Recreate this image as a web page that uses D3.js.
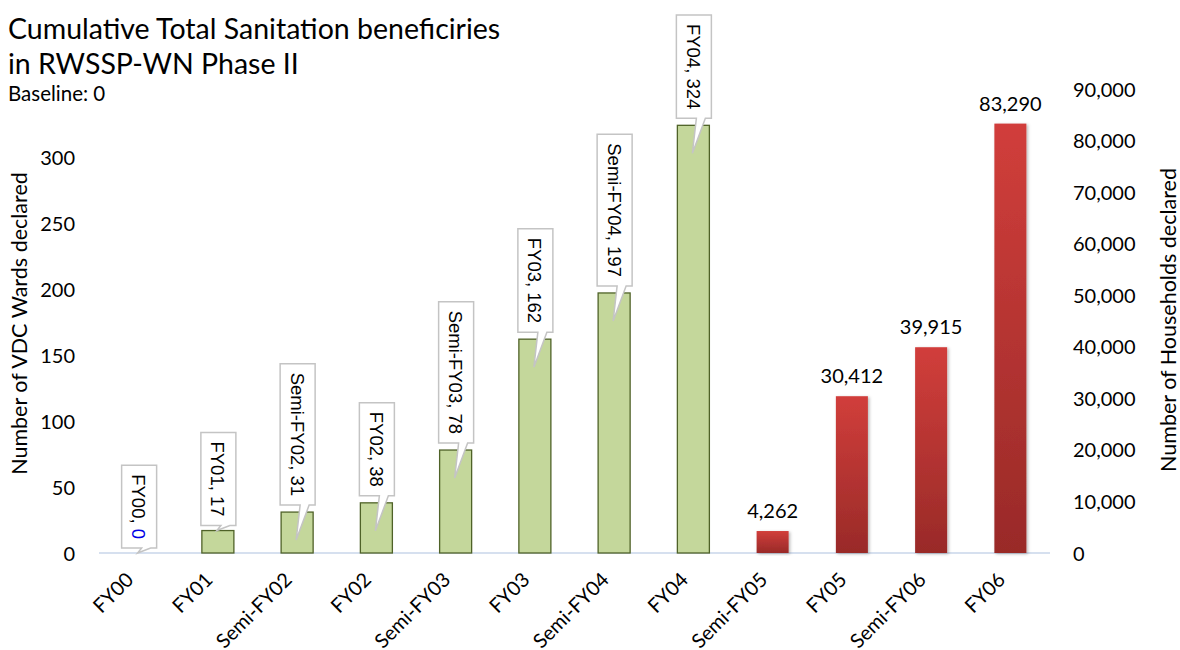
<!DOCTYPE html>
<html>
<head>
<meta charset="utf-8">
<script src="https://cdn.jsdelivr.net/npm/d3@7"></script>
<style>
  html, body { margin: 0; padding: 0; background: #fff; }
  svg { display: block; }
  text { font-family: Lato, "Open Sans", sans-serif; fill: #000; }
  .callout text { font-family: "Liberation Sans", Arial, sans-serif; }
</style>
</head>
<body>
<svg id="chart" width="1180" height="650"></svg>
<script>
// Reporting periods along the category axis
const categories = ["FY00", "FY01", "Semi-FY02", "FY02", "Semi-FY03", "FY03",
                    "Semi-FY04", "FY04", "Semi-FY05", "FY05", "Semi-FY06", "FY06"];
// VDC wards declared (left axis)
const wardsDeclared = [0, 17, 31, 38, 78, 162, 197, 324, null, null, null, null];
// Households declared (right axis)
const householdsDeclared = [null, null, null, null, null, null, null, null, 4262, 30412, 39915, 83290];
// Tick values for the two value axes
const leftTicks = [0, 50, 100, 150, 200, 250, 300];
const rightTicks = [0, 10000, 20000, 30000, 40000, 50000, 60000, 70000, 80000, 90000];

const svg = d3.select("#chart");
const baseY = 553, topY = 91;
const plotLeft = 99, plotRight = 1050;

const x = d3.scaleBand().domain(categories).range([plotLeft, plotRight])
  .paddingInner(0.596).paddingOuter(0.298);
const yL = d3.scaleLinear().domain([0, 350]).range([baseY, topY]);
const yR = d3.scaleLinear().domain([0, 90000]).range([baseY, topY - 2]);

const defs = svg.append("defs");
const grad = defs.append("linearGradient").attr("id", "redGrad")
  .attr("x1", 0).attr("y1", 0).attr("x2", 0).attr("y2", 1);
grad.append("stop").attr("offset", "0%").attr("stop-color", "#d13e3b");
grad.append("stop").attr("offset", "100%").attr("stop-color", "#992a28");
const shadow = defs.append("filter").attr("id", "barShadow")
  .attr("x", "-20%").attr("y", "-5%").attr("width", "150%").attr("height", "115%");
shadow.append("feDropShadow").attr("dx", 1.5).attr("dy", 1).attr("stdDeviation", 1.4)
  .attr("flood-color", "#000").attr("flood-opacity", 0.28);

// Title
const title = svg.append("g");
title.append("text").attr("x", 8).attr("y", 39).attr("font-size", 28.5)
  .text("Cumulative Total Sanitation beneficiries");
title.append("text").attr("x", 8).attr("y", 74).attr("font-size", 28.5)
  .text("in RWSSP-WN Phase II");
title.append("text").attr("x", 8).attr("y", 101).attr("font-size", 20.5)
  .text("Baseline: 0");

// Left value axis
const leftAxis = svg.append("g").attr("transform", `translate(${plotLeft},0)`)
  .call(d3.axisLeft(yL).tickValues(leftTicks).tickSize(0).tickPadding(24));
leftAxis.select(".domain").remove();
leftAxis.selectAll("text").attr("font-size", 20).attr("font-family", "Lato").attr("fill", "#000")
  .attr("dy", "0.35em");

// Right value axis
const rightAxis = svg.append("g").attr("transform", `translate(${plotRight},0)`)
  .call(d3.axisRight(yR).tickValues(rightTicks).tickSize(0).tickPadding(23)
    .tickFormat(d3.format(",")));
rightAxis.select(".domain").remove();
rightAxis.selectAll("text").attr("font-size", 20).attr("font-family", "Lato").attr("fill", "#000")
  .attr("dy", "0.35em");

// Axis titles
svg.append("text").attr("transform", `translate(27,${(172 + 475) / 2}) rotate(-90)`)
  .attr("text-anchor", "middle").attr("font-size", 21.5).text("Number of VDC Wards declared");
svg.append("text").attr("transform", `translate(1176,${(165 + 475) / 2}) rotate(-90)`)
  .attr("text-anchor", "middle").attr("font-size", 21.5).text("Number of Households declared");

// Category axis line
svg.append("line").attr("x1", plotLeft).attr("x2", plotRight)
  .attr("y1", baseY).attr("y2", baseY).attr("stroke", "#d6e0ef").attr("stroke-width", 2);

// Category labels, slanted
svg.append("g").selectAll("text").data(categories).join("text")
  .attr("transform", d => `translate(${x(d) + x.bandwidth() / 2 - 4},${baseY + 28}) rotate(-45)`)
  .attr("text-anchor", "end").attr("font-size", 20).text(d => d);

// Ward bars (left axis)
const wardData = categories.map((c, i) => ({ c, v: wardsDeclared[i] })).filter(d => d.v !== null);
svg.append("g").selectAll("rect").data(wardData).join("rect")
  .attr("x", d => x(d.c)).attr("width", x.bandwidth())
  .attr("y", d => yL(d.v)).attr("height", d => baseY - yL(d.v))
  .attr("fill", "#c4d79b").attr("stroke", "#4f6228").attr("stroke-width", 1.3);

// Household bars (right axis)
const hhData = categories.map((c, i) => ({ c, v: householdsDeclared[i] })).filter(d => d.v !== null);
svg.append("g").selectAll("rect").data(hhData).join("rect")
  .attr("x", d => x(d.c)).attr("width", x.bandwidth())
  .attr("y", d => yR(d.v)).attr("height", d => baseY - yR(d.v))
  .attr("fill", "url(#redGrad)").attr("filter", "url(#barShadow)");

svg.append("g").selectAll("text").data(hhData).join("text")
  .attr("x", d => x(d.c) + x.bandwidth() / 2).attr("y", d => yR(d.v) - 13)
  .attr("text-anchor", "middle").attr("font-size", 20).text(d => d3.format(",")(d.v));

// Callout labels on the ward bars: category name and value, written downwards
const callouts = svg.append("g").attr("class", "callout");
wardData.forEach(d => {
  const cx = x(d.c) + x.bandwidth() / 2;
  const top = yL(d.v);
  const h = baseY - top;
  const g = callouts.append("g");
  const path = g.append("path");
  const t = g.append("text").attr("font-size", 18.5);
  t.append("tspan").text(d.c + ", ");
  t.append("tspan").attr("fill", d.v === 0 ? "#0000e6" : "#000").text(d.v);
  const tw = t.node().getComputedTextLength();
  const boxBottom = top - (h > 30 ? 7 : 5);
  const boxTop = boxBottom - tw - 18;
  const x0 = cx - 17, x1 = cx + 18;
  const tipY = top + (h > 30 ? 28 : 0);
  path.attr("d", `M${x0},${boxTop}H${x1}V${boxBottom}H${cx + 12}L${cx - 1},${tipY}L${cx + 3},${boxBottom}H${x0}Z`)
    .attr("fill", "#fff").attr("stroke", "#c4c4c4").attr("stroke-width", 1.5);
  t.attr("transform", `translate(${cx - 6.5},${boxTop + 9}) rotate(90)`);
});
</script>
</body>
</html>
